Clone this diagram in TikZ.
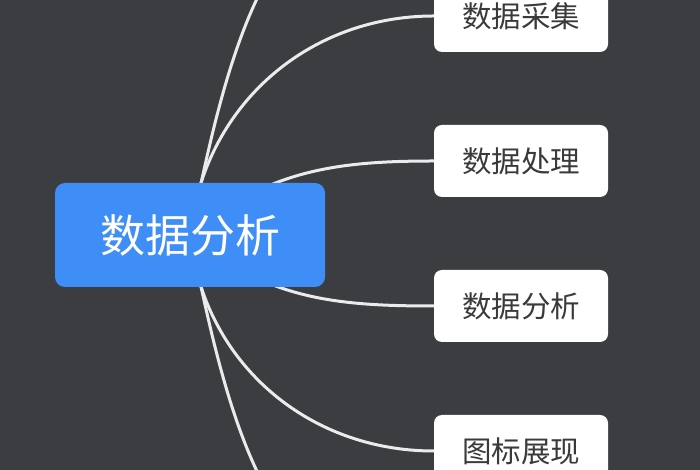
\documentclass[tikz,border=0pt]{standalone}
\usepackage{fontspec}
\setmainfont{Noto Sans CJK SC}
\usetikzlibrary{backgrounds}

\definecolor{bgdark}{HTML}{3B3D41}
\definecolor{rootblue}{HTML}{3F8EF7}
\definecolor{leaftext}{HTML}{3A3A3A}

\tikzset{
    rootbox/.style={fill=rootblue, text=white, rounded corners=10pt,
        minimum width=270pt, minimum height=104pt, font=\fontsize{45pt}{50pt}\selectfont},
    leafbox/.style={fill=white, text=leaftext, rounded corners=8pt,
        minimum width=174pt, minimum height=72pt, font=\fontsize{29.5pt}{33pt}\selectfont},
    branch/.style={draw=white!92!black, line width=3pt}
}

\begin{document}
\begin{tikzpicture}[x=1pt, y=1pt]
    % Canvas
    \clip (0,0) rectangle (700,470);

    % Root topic
    \node[rootbox] (root) at (190,235) {数据分析};

    % Subtopics
    \node[leafbox] (collect) at (521,454) {数据采集};
    \node[leafbox] (process) at (521,309) {数据处理};
    \node[leafbox] (analyse) at (521,164) {数据分析};
    \node[leafbox] (chart)   at (521,19)  {图标展现};

    % Branches leaving the canvas
    \coordinate (above) at (434,599);
    \coordinate (below) at (434,-129);

    % Background and branches, behind the topics
    \begin{scope}[on background layer]
        \fill[bgdark] (0,0) rectangle (700,470);
        \draw[branch] (root.center) to[out=78, in=180] (above);
        \draw[branch] (root.center) to[out=84, in=180] (collect.west);
        \draw[branch] (root.center) to[out=40, in=180] (process.west);
        \draw[branch] (root.center) to[out=-40, in=180] (analyse.west);
        \draw[branch] (root.center) to[out=-84, in=180] (chart.west);
        \draw[branch] (root.center) to[out=-78, in=180] (below);
    \end{scope}
\end{tikzpicture}
\end{document}
